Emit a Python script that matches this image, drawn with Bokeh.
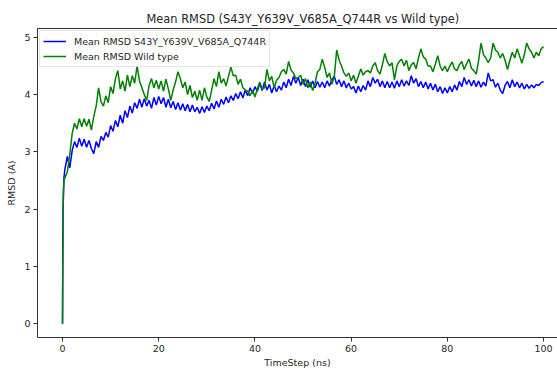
import numpy as np
from bokeh.plotting import figure
from bokeh.models import (Range1d, FixedTicker, LinearAxis,
                          Legend, LegendItem, Title, ColumnDataSource)
from bokeh.embed import file_html
from bokeh.resources import INLINE

# ---- data -----------------------------------------------------------------
# time axis (ns): a few fine samples during the initial jump, then every 0.5 ns
time_early = [0.0, 0.1, 0.2, 0.3]
time_main = np.arange(0.5, 100.01, 0.5)
time_ns = np.concatenate([time_early, time_main])

rmsd_mutant = [
    0.0, 1.9, 2.3, 2.55,
    2.7, 2.92, 2.72, 3.02, 3.18, 3.08, 3.24, 3.1, 3.22, 3.08,
    3.2, 3.06, 2.97, 3.18, 3.08, 3.27, 3.2, 3.34, 3.26, 3.46,
    3.36, 3.55, 3.44, 3.64, 3.5, 3.72, 3.6, 3.8, 3.68, 3.86,
    3.76, 3.92, 3.78, 3.93, 3.8, 3.9, 3.76, 3.95, 3.82, 3.97,
    3.84, 3.95, 3.78, 3.92, 3.77, 3.88, 3.74, 3.86, 3.73, 3.84,
    3.72, 3.83, 3.7, 3.82, 3.7, 3.78, 3.67, 3.79, 3.69, 3.8,
    3.72, 3.85, 3.75, 3.89, 3.78, 3.92, 3.83, 3.96, 3.86, 3.98,
    3.9, 4.02, 3.93, 4.05, 3.94, 4.08, 3.98, 4.12, 4.02, 4.14,
    4.06, 4.2, 4.07, 4.22, 4.08, 4.18, 4.03, 4.16, 4.05, 4.15,
    4.08, 4.22, 4.12, 4.27, 4.16, 4.32, 4.2, 4.3, 4.16, 4.27,
    4.14, 4.26, 4.13, 4.24, 4.12, 4.23, 4.13, 4.22, 4.12, 4.24,
    4.15, 4.26, 4.32, 4.18, 4.26, 4.14, 4.24, 4.12, 4.2, 4.1,
    4.14, 4.03, 4.15, 4.05, 4.16, 4.08, 4.24, 4.14, 4.3, 4.2,
    4.27, 4.14, 4.24, 4.12, 4.23, 4.12, 4.22, 4.11, 4.24, 4.14,
    4.26, 4.15, 4.24, 4.16, 4.33, 4.2, 4.28, 4.14, 4.23, 4.12,
    4.22, 4.1, 4.2, 4.08, 4.18, 4.05, 4.14, 4.02, 4.12, 4.03,
    4.14, 4.05, 4.17, 4.08, 4.23, 4.14, 4.3, 4.18, 4.26, 4.15,
    4.25, 4.14, 4.24, 4.13, 4.22, 4.15, 4.38, 4.24, 4.26, 4.13,
    4.2, 4.08, 4.02, 4.16, 4.23, 4.12, 4.26, 4.14, 4.22, 4.12,
    4.2, 4.1, 4.18, 4.11, 4.17, 4.12, 4.18, 4.16, 4.21, 4.23,
]

rmsd_wild = [
    0.0, 1.95, 2.3, 2.5,
    2.55, 2.65, 2.95, 3.32, 3.5, 3.4, 3.58, 3.44, 3.58, 3.45,
    3.57, 3.38, 3.62, 3.8, 4.12, 3.88, 3.8, 3.98, 3.86, 4.14,
    4.02, 4.28, 4.42, 4.1, 4.24, 4.06, 4.34, 4.14, 4.33, 4.2,
    4.5, 4.24, 4.12, 4.0, 3.9, 4.16, 4.28, 4.12, 4.25, 4.1,
    4.24, 4.06, 4.27, 4.1, 3.9, 4.08, 4.22, 4.4, 4.28, 4.12,
    4.22, 4.0, 4.16, 3.95, 4.06, 3.9, 4.08, 3.9, 4.12, 3.96,
    3.88, 4.08, 4.28, 4.14, 4.4, 4.2, 4.28, 4.15, 4.32, 4.48,
    4.33, 4.34, 4.18, 4.27, 4.12, 4.08, 4.06, 3.98, 4.08, 3.96,
    4.1, 4.22, 4.1, 4.12, 4.44, 4.24, 4.32, 4.12, 4.25, 4.3,
    4.4, 4.44, 4.36, 4.58, 4.43, 4.38, 4.28, 4.3, 4.34, 4.18,
    4.28, 4.12, 4.22, 4.07, 4.2, 4.4, 4.44, 4.62, 4.48, 4.3,
    4.38, 4.18, 4.32, 4.78, 4.6, 4.5, 4.38, 4.32, 4.38, 4.24,
    4.34, 4.2, 4.32, 4.45, 4.34, 4.4, 4.42, 4.38, 4.5, 4.56,
    4.42, 4.36, 4.52, 4.72, 4.58, 4.5, 4.56, 4.26, 4.5, 4.58,
    4.62, 4.5, 4.6, 4.42, 4.52, 4.56, 4.45, 4.64, 4.8, 4.66,
    4.62, 4.5, 4.5, 4.4, 4.53, 4.68, 4.5, 4.42, 4.5, 4.4,
    4.5, 4.57, 4.45, 4.42, 4.52, 4.58, 4.44, 4.54, 4.62, 4.46,
    4.42, 4.36, 4.6, 4.9, 4.7, 4.64, 4.56, 4.64, 4.9, 4.78,
    4.74, 4.64, 4.72, 4.6, 4.44, 4.6, 4.74, 4.64, 4.8, 4.68,
    4.55, 4.7, 4.9, 4.8, 4.74, 4.64, 4.74, 4.68, 4.8, 4.84,
]

series_labels = ["Mean RMSD S43Y_Y639V_V685A_Q744R", "Mean RMSD Wild type"]
series_colors = ["#0000ff", "#008000"]
x_ticks = [0, 20, 40, 60, 80, 100]
y_ticks = [0, 1, 2, 3, 4, 5]

FONT = "DejaVu Sans"
INK = "#262626"
SPINE = "#333333"

# ---- figure ---------------------------------------------------------------
p = figure(width=557, height=370, output_backend="svg", toolbar_location=None,
           x_range=Range1d(-5.2, 102.9), y_range=Range1d(-0.24, 5.155),
           min_border_left=37, min_border_right=0, min_border_top=28,
           min_border_bottom=29)
p.background_fill_color = "white"
p.border_fill_color = "white"
p.outline_line_color = None
p.grid.visible = False

bottom_axis = p.below[0]
left_axis = p.left[0]

# axes styled as plain spines with outward ticks
for ax in (bottom_axis, left_axis):
    ax.major_label_text_font = FONT
    ax.major_label_text_font_size = "9.5px"
    ax.major_label_text_color = INK
    ax.axis_label_text_font = FONT
    ax.axis_label_text_font_size = "9.5px"
    ax.axis_label_text_font_style = "normal"
    ax.axis_label_text_color = INK
    ax.axis_line_color = SPINE
    ax.axis_line_width = 1
    ax.major_tick_line_color = SPINE
    ax.major_tick_out = 4
    ax.major_tick_in = 0
    ax.minor_tick_line_color = None
    ax.major_label_standoff = 3

bottom_axis.ticker = FixedTicker(ticks=x_ticks)
left_axis.ticker = FixedTicker(ticks=y_ticks)
bottom_axis.axis_label = "TimeStep (ns)"
left_axis.axis_label = "RMSD (A)"
bottom_axis.axis_label_standoff = 2
left_axis.axis_label_standoff = 4

# top spine: a bare axis hugging the frame
top_axis = LinearAxis(ticker=FixedTicker(ticks=[]), major_label_text_font_size="0px",
                      major_tick_out=0, major_tick_in=0, minor_tick_out=0,
                      major_label_standoff=0, axis_line_color=SPINE,
                      axis_line_width=1)
p.add_layout(top_axis, "above")

title = Title(text="Mean RMSD (S43Y_Y639V_V685A_Q744R vs Wild type)",
              align="left", offset=109, standoff=6,
              text_font=FONT, text_font_size="11.4px",
              text_font_style="normal", text_color=INK)
p.add_layout(title, "above")

# ---- lines ----------------------------------------------------------------
renderers = []
for vals, color in zip([rmsd_mutant, rmsd_wild], series_colors):
    src = ColumnDataSource(dict(t=time_ns, v=vals))
    r = p.line("t", "v", source=src, line_color=color, line_width=1.5)
    renderers.append(r)

legend = Legend(items=[LegendItem(label=l, renderers=[r])
                       for l, r in zip(series_labels, renderers)],
                location="top_left", margin=2, padding=3, spacing=1,
                glyph_width=23, glyph_height=14, label_height=14,
                label_standoff=8,
                label_text_font=FONT, label_text_font_size="9.5px",
                label_text_color=INK,
                border_line_color="#cccccc", border_line_width=1,
                background_fill_color="white", background_fill_alpha=0.85)
p.add_layout(legend)

open("out.html", "w").write(file_html(p, INLINE))
